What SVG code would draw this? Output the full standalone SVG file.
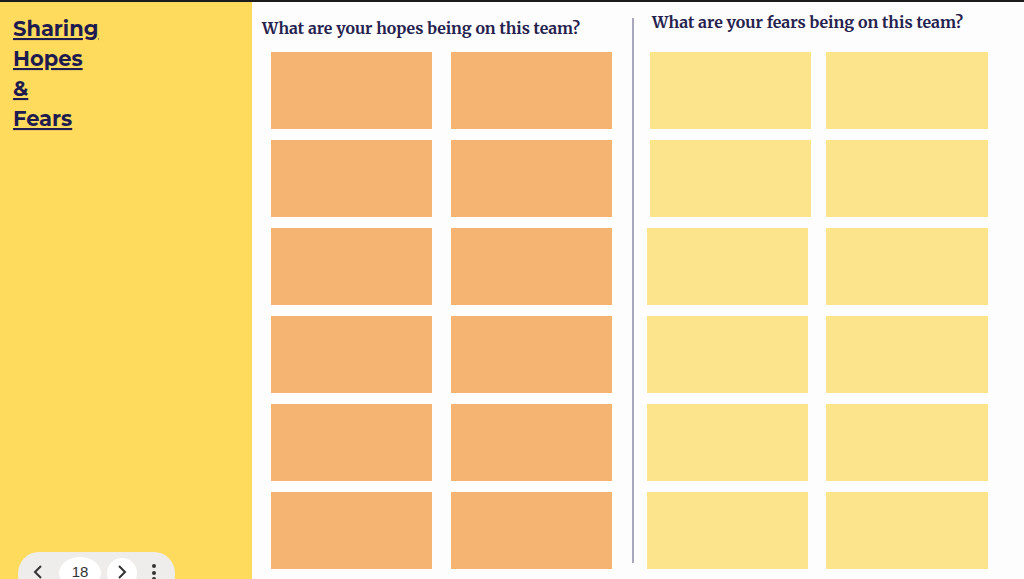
<svg xmlns="http://www.w3.org/2000/svg" width="1024" height="579" viewBox="0 0 1024 579">
<style>
.title{font-family:Montserrat,"Noto Sans","Liberation Sans",sans-serif;font-weight:700;font-size:21px;fill:#1e1b50;text-decoration:underline}
.head{font-family:Merriweather,"DejaVu Serif","Liberation Serif",serif;font-weight:700;font-size:15px;fill:#25224d}
.hope{fill:#f5b472}
.fear{fill:#fce48c}
.nav{font-family:"Liberation Sans",Arial,sans-serif;font-size:15px;fill:#333}
</style>
<rect x="0" y="0" width="1024" height="579" fill="#fefdfe"/>
<rect x="0" y="0" width="252" height="579" fill="#fedb5c"/>
<rect x="0" y="0" width="1024" height="2" fill="#1c1c1c"/>
<g id="title">
<text class="title" x="13" y="36">Sharing</text>
<text class="title" x="13" y="66">Hopes</text>
<text class="title" x="13" y="96">&amp;</text>
<text class="title" x="13" y="126">Fears</text>
</g>
<g id="hopes-heading"><text class="head" x="262" y="34" textLength="318" lengthAdjust="spacingAndGlyphs">What are your hopes being on this team?</text></g>
<g id="fears-heading"><text class="head" x="652" y="28" textLength="311" lengthAdjust="spacingAndGlyphs">What are your fears being on this team?</text></g>
<line x1="633" y1="18" x2="633" y2="563" stroke="#8c8aa8" stroke-width="1.5"/>
<g id="hopes">
<rect class="hope" x="271" y="52" width="161" height="77"/><rect class="hope" x="451" y="52" width="161" height="77"/>
<rect class="hope" x="271" y="140" width="161" height="77"/><rect class="hope" x="451" y="140" width="161" height="77"/>
<rect class="hope" x="271" y="228" width="161" height="77"/><rect class="hope" x="451" y="228" width="161" height="77"/>
<rect class="hope" x="271" y="316" width="161" height="77"/><rect class="hope" x="451" y="316" width="161" height="77"/>
<rect class="hope" x="271" y="404" width="161" height="77"/><rect class="hope" x="451" y="404" width="161" height="77"/>
<rect class="hope" x="271" y="492" width="161" height="77"/><rect class="hope" x="451" y="492" width="161" height="77"/>
</g>
<g id="fears">
<rect class="fear" x="650" y="52" width="161" height="77"/><rect class="fear" x="826" y="52" width="162" height="77"/>
<rect class="fear" x="650" y="140" width="161" height="77"/><rect class="fear" x="826" y="140" width="162" height="77"/>
<rect class="fear" x="647" y="228" width="161" height="77"/><rect class="fear" x="826" y="228" width="162" height="77"/>
<rect class="fear" x="647" y="316" width="161" height="77"/><rect class="fear" x="826" y="316" width="162" height="77"/>
<rect class="fear" x="647" y="404" width="161" height="77"/><rect class="fear" x="826" y="404" width="162" height="77"/>
<rect class="fear" x="647" y="492" width="161" height="77"/><rect class="fear" x="826" y="492" width="162" height="77"/>
</g>
<g id="nav">
<rect x="18" y="552" width="157" height="44" rx="21" fill="#eeedeb"/>
<path d="M41 566 L35 572 L41 578" fill="none" stroke="#333" stroke-width="2"/>
<ellipse cx="80" cy="573" rx="21" ry="16" fill="#ffffff"/>
<text class="nav" x="80" y="577" text-anchor="middle">18</text>
<circle cx="122" cy="573" r="15" fill="#ffffff"/>
<path d="M119 566 L125 572 L119 578" fill="none" stroke="#333" stroke-width="2"/>
<circle cx="154" cy="566" r="2" fill="#333"/>
<circle cx="154" cy="573" r="2" fill="#333"/>
<circle cx="154" cy="579" r="2" fill="#333"/>
</g>
</svg>
